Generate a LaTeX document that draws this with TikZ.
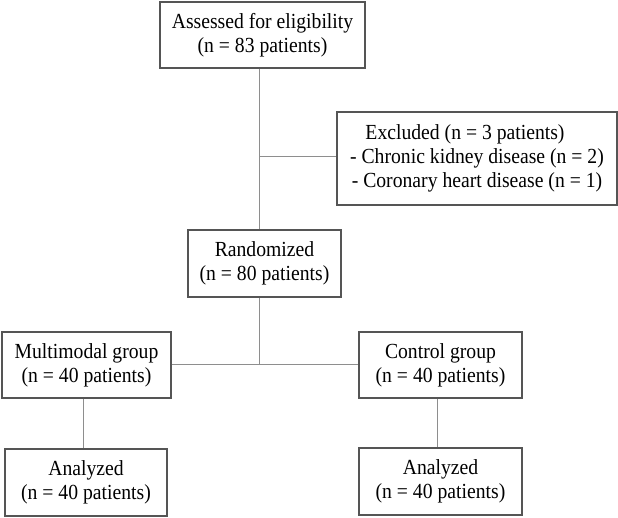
\documentclass[tikz,border=0pt]{standalone}
\usepackage{fontspec}
\setmainfont{Liberation Serif}[FakeStretch=0.915]
\begin{document}
\begin{tikzpicture}[x=1pt,y=-1pt,
  box/.style={draw=boxgray,line width=1.2pt,fill=white,inner sep=0pt,align=center,
    font=\fontsize{21.5}{24}\selectfont,text=black},
  link/.style={draw=linegray,line width=1pt}]
\definecolor{boxgray}{HTML}{555555}
\definecolor{linegray}{HTML}{8E8E8E}
\useasboundingbox (0,0) rectangle (618,517);
\node[box,minimum width=205pt,minimum height=66pt] (top) at (262.5,35) {Assessed for eligibility\\(n = 83 patients)};
\node[box,minimum width=280pt,minimum height=93pt] (excl) at (477,158.5) {Excluded (n = 3 patients)\hspace*{24pt}\\- Chronic kidney disease (n = 2)\\- Coronary heart disease (n = 1)};
\node[box,minimum width=153pt,minimum height=67pt] (rand) at (264.5,263.5) {Randomized\\(n = 80 patients)};
\node[box,minimum width=169pt,minimum height=66pt] (multi) at (86.5,365) {Multimodal group\\(n = 40 patients)};
\node[box,minimum width=163pt,minimum height=66pt] (ctrl) at (440.5,365) {Control group\\(n = 40 patients)};
\node[box,minimum width=162pt,minimum height=67pt] (an1) at (86,482.5) {Analyzed\\(n = 40 patients)};
\node[box,minimum width=163pt,minimum height=67pt] (an2) at (440.5,481.5) {Analyzed\\(n = 40 patients)};
\coordinate (spine) at (259.5,0);
\coordinate (br) at (259.5,156);
\coordinate (split) at (259.5,364.5);
\coordinate (lx) at (83,0);
\coordinate (rx) at (437,0);
\draw[link] (top.south -| spine) -- (rand.north -| spine);
\draw[link] (br) -- (br -| excl.west);
\draw[link] (rand.south -| spine) -- (split);
\draw[link] (split -| multi.east) -- (split -| ctrl.west);
\draw[link] (multi.south -| lx) -- (an1.north -| lx);
\draw[link] (ctrl.south -| rx) -- (an2.north -| rx);
\end{tikzpicture}
\end{document}
